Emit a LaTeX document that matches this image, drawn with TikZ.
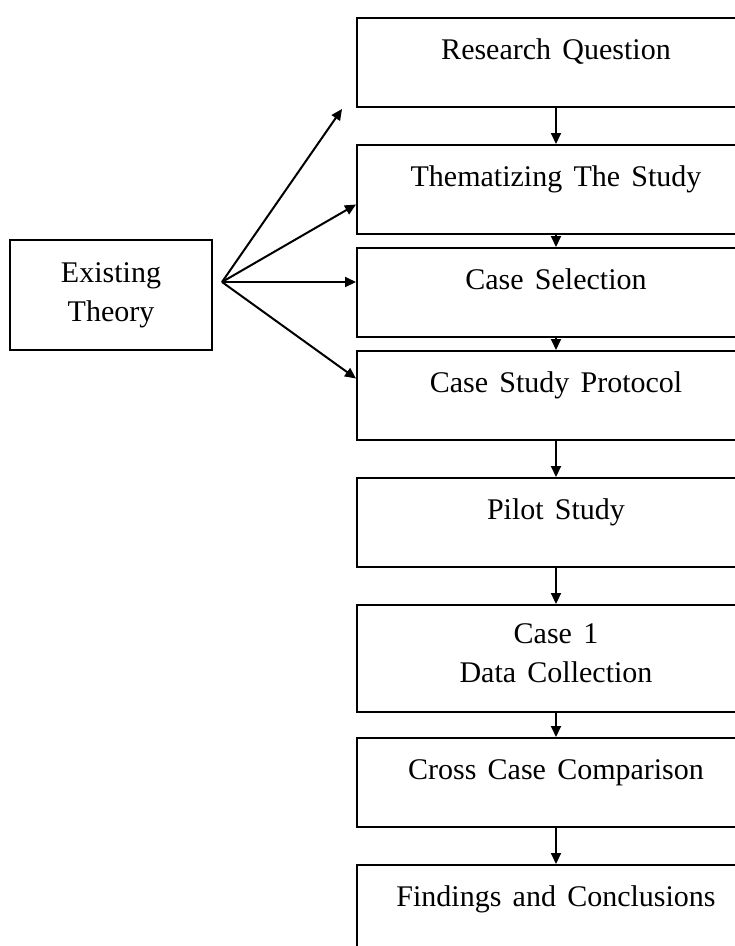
\documentclass[tikz,border=0pt]{standalone}
\usepackage{fontspec}
\setmainfont[WordSpace=1.5]{Liberation Serif}
\usetikzlibrary{arrows.meta, positioning, calc}

\begin{document}
\begin{tikzpicture}[x=1pt, y=-1pt,
  every node/.style={font=\fontsize{30}{39}\selectfont},
  stage/.style={draw, line width=2pt, anchor=north west, minimum width=398pt,
    inner xsep=0pt, inner ysep=0pt, text height=41pt, text depth=48pt, align=center},
  arr/.style={-{Triangle[length=11pt, width=10pt]}, line width=2pt}]
  \useasboundingbox (0,0) rectangle (735,946);
  \clip (0,0) rectangle (735,946);

  % main column of stages
  \node[stage] (rq)    at (356,17)  {Research Question};
  \node[stage] (them)  at (356,144) {Thematizing The Study};
  \node[stage] (sel)   at (356,247) {Case Selection};
  \node[stage] (csp)   at (356,350) {Case Study Protocol};
  \node[stage] (pilot) at (356,477) {Pilot Study};
  \node[stage, text height=77pt, text depth=30pt] (case) at (356,604) {Case 1\\Data Collection};
  \node[stage] (cross) at (356,737) {Cross Case Comparison};
  \node[stage] (find)  at (356,864) {Findings and Conclusions};
  \foreach \a/\b in {rq/them, them/sel, sel/csp, csp/pilot, pilot/case, case/cross, cross/find}
    \draw[arr] (\a.south) -- (\b.north);

  % theory feeding the first stages
  \node[draw, line width=2pt, minimum width=202pt, minimum height=110pt, align=center] (theory) at (111,295) {Existing\\Theory};
  \coordinate (fan) at (222,282);
  \draw[arr] (fan) -- ([xshift=-14pt, yshift=-1pt]rq.south west);
  \draw[arr] (fan) -- ([yshift=-15pt]them.west);
  \draw[arr] (fan) -- (fan -| sel.west);
  \draw[arr] (fan) -- ([yshift=17pt]csp.west);
\end{tikzpicture}
\end{document}
